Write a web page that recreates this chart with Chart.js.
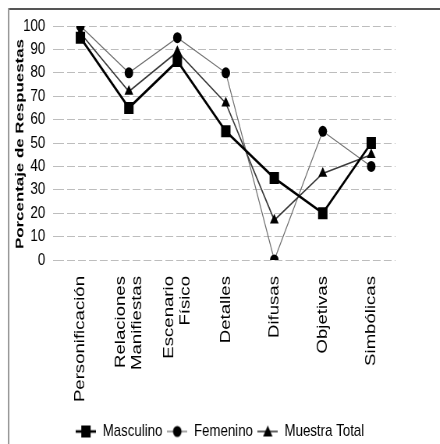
<!DOCTYPE html>
<html>
<head>
<meta charset="utf-8">
<script src="https://cdn.jsdelivr.net/npm/chart.js@4/dist/chart.umd.min.js"></script>
<style>
  html, body { margin: 0; padding: 0; background: #fff; overflow: hidden; }
  #page { width: 440px; height: 444px; overflow: hidden; position: relative; }
  /* the drawing is laid out wide and narrowed horizontally */
  #wrap { width: 564px; height: 444px; transform: scale(0.78, 1); transform-origin: 0 0; }
</style>
</head>
<body>
<div id="page"><div id="wrap"><canvas id="c" width="564" height="444"></canvas></div></div>
<script>
// Categories of response and percentage per group
const categories = [
  'Personificación',
  ['Relaciones', 'Manifiestas'],
  ['Escenario', 'Físico'],
  'Detalles',
  'Difusas',
  'Objetivas',
  'Simbólicas'
];
const masculino    = [95, 65, 85, 55, 35, 20, 50];
const femenino     = [100, 80, 95, 80, 0, 55, 40];
const muestraTotal = [97, 72, 89, 67, 17, 37, 45];
const yTicks = [0, 10, 20, 30, 40, 50, 60, 70, 80, 90, 100];
const yTitle = 'Porcentaje de Respuestas';

const SANS = "'Liberation Sans', Arial, sans-serif";
const X_FONT = 18.6;
const X_LINE = 21.6;

// Small swatch (line through marker) used as legend symbol
function swatch(kind, lineColor, lineWidth) {
  const cv = document.createElement('canvas');
  cv.width = 26; cv.height = 14;
  const g = cv.getContext('2d');
  g.strokeStyle = lineColor; g.lineWidth = lineWidth;
  g.beginPath(); g.moveTo(0, 7); g.lineTo(26, 7); g.stroke();
  g.fillStyle = '#000';
  g.beginPath();
  if (kind === 'rect') g.rect(7, 1, 12, 12);
  else if (kind === 'circle') g.arc(13, 7, 5.5, 0, Math.PI * 2);
  else { g.moveTo(13, 1); g.lineTo(19, 12); g.lineTo(7, 12); g.closePath(); }
  g.fill();
  return cv;
}

// Frame lines, vertical category labels (centred per tick) and y-axis title
const framePlugin = {
  id: 'frame',
  beforeDraw(chart) {
    const ctx = chart.ctx;
    ctx.save();
    ctx.fillStyle = '#fff';
    ctx.fillRect(0, 0, chart.width, chart.height);
    ctx.strokeStyle = '#555';
    ctx.lineWidth = 2;
    ctx.beginPath(); ctx.moveTo(10, 9); ctx.lineTo(chart.width, 9); ctx.stroke();
    ctx.strokeStyle = '#999';
    ctx.lineWidth = 2;
    ctx.beginPath(); ctx.moveTo(11, 8); ctx.lineTo(11, chart.height); ctx.stroke();
    ctx.restore();
  },
  afterDraw(chart) {
    const ctx = chart.ctx;
    const a = chart.chartArea;
    const xs = chart.scales.x;

    ctx.save();
    ctx.fillStyle = '#000';
    ctx.font = X_FONT + 'px ' + SANS;
    ctx.textAlign = 'right';
    ctx.textBaseline = 'middle';
    chart.data.labels.forEach((lab, i) => {
      const lines = Array.isArray(lab) ? lab : [lab];
      const px = xs.getPixelForTick(i);
      lines.forEach((t, k) => {
        const cx = px + (k - (lines.length - 1) / 2) * X_LINE;
        ctx.save();
        ctx.translate(cx, a.bottom + 16);
        ctx.rotate(-Math.PI / 2);
        ctx.fillText(t, 0, 0);
        ctx.restore();
      });
    });
    ctx.restore();

    ctx.save();
    ctx.font = 'bold 14px ' + SANS;
    const w = ctx.measureText(yTitle).width;
    ctx.translate(26, (a.top + a.bottom) / 2 + 1);
    ctx.rotate(-Math.PI / 2);
    ctx.scale(210 / w, 1);
    ctx.fillStyle = '#000';
    ctx.textAlign = 'center';
    ctx.textBaseline = 'middle';
    ctx.fillText(yTitle, 0, 0);
    ctx.restore();
  }
};

new Chart(document.getElementById('c'), {
  type: 'line',
  data: {
    labels: categories,
    datasets: [
      {
        label: 'Masculino', data: masculino,
        borderColor: '#000', borderWidth: 2.6,
        pointStyle: 'rect', pointRadius: 8.5, pointHoverRadius: 8.5,
        pointBackgroundColor: '#000', pointBorderColor: '#000', pointBorderWidth: 0,
        tension: 0, fill: false, order: 1
      },
      {
        label: 'Femenino', data: femenino,
        borderColor: '#6e6e6e', borderWidth: 1.2,
        pointStyle: 'circle', pointRadius: 5.5, pointHoverRadius: 5.5,
        pointBackgroundColor: '#000', pointBorderColor: '#000', pointBorderWidth: 0,
        tension: 0, fill: false, order: 3
      },
      {
        label: 'Muestra Total', data: muestraTotal,
        borderColor: '#3a3a3a', borderWidth: 1.6,
        pointStyle: 'triangle', pointRadius: 6.5, pointHoverRadius: 6.5,
        pointBackgroundColor: '#000', pointBorderColor: '#000', pointBorderWidth: 0,
        tension: 0, fill: false, order: 2
      }
    ]
  },
  options: {
    responsive: false,
    animation: false,
    devicePixelRatio: 1,
    layout: { padding: { top: 26, right: 0, left: 0, bottom: -6 } },
    scales: {
      x: {
        offset: true,
        afterFit(scale) { scale.height = 157; },
        grid: { display: false },
        border: { display: false },
        ticks: { display: false }
      },
      y: {
        min: 0, max: 100,
        afterBuildTicks(scale) { scale.ticks = yTicks.map(v => ({ value: v })); },
        afterFit(scale) { scale.width = 72; },
        grid: {
          color: '#bdbdbd', lineWidth: 1,
          drawTicks: true, tickLength: 4
        },
        border: { display: false, dash: [10, 4] },
        ticks: {
          color: '#000',
          font: { family: SANS, size: 17 },
          padding: 10
        }
      },
      // empty margin on the right of the plot
      yRight: {
        position: 'right',
        display: true,
        afterFit(scale) { scale.width = 57; },
        grid: { display: false },
        border: { display: false },
        ticks: { display: false }
      }
    },
    plugins: {
      legend: {
        position: 'bottom',
        labels: {
          color: '#000',
          font: { family: SANS, size: 17 },
          usePointStyle: true,
          pointStyleWidth: 26,
          boxHeight: 14,
          padding: 6,
          generateLabels(chart) {
            const sty = [['rect', '#000', 2.6], ['circle', '#6e6e6e', 1.2], ['triangle', '#3a3a3a', 1.6]];
            return chart.data.datasets.map((d, i) => ({
              text: d.label,
              pointStyle: swatch(sty[i][0], sty[i][1], sty[i][2]),
              fillStyle: '#000', strokeStyle: '#000', lineWidth: 0,
              hidden: false, datasetIndex: i
            }));
          }
        }
      },
      tooltip: { enabled: false }
    }
  },
  plugins: [framePlugin]
});
</script>
</body>
</html>
